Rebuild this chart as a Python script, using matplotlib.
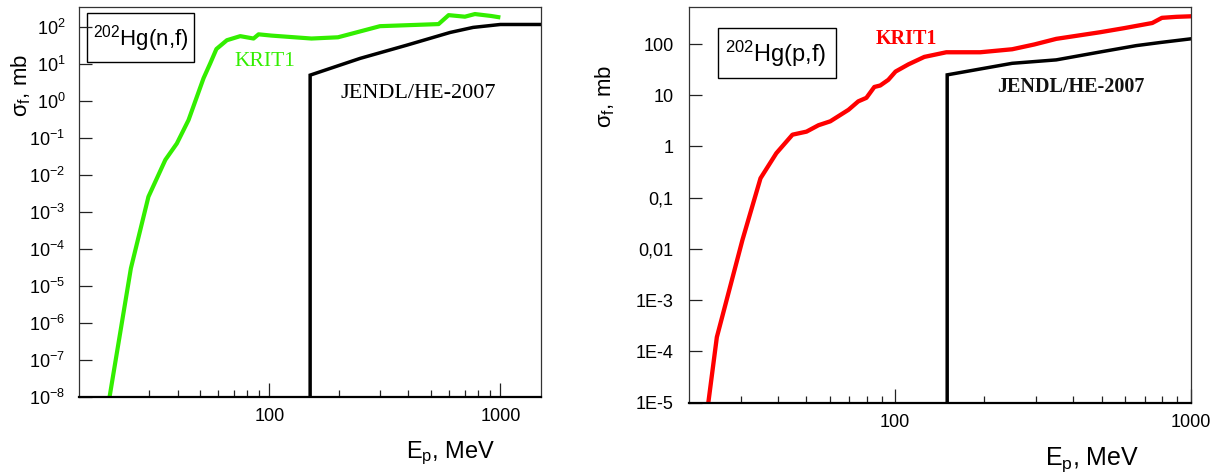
import matplotlib
matplotlib.use("Agg")
import matplotlib.pyplot as plt
from matplotlib.patches import Rectangle
from matplotlib.ticker import FixedLocator, FixedFormatter, NullFormatter

plt.rcParams['font.family'] = ['Liberation Sans', 'DejaVu Sans']
plt.rcParams['mathtext.fontset'] = 'custom'
plt.rcParams['mathtext.rm'] = 'Liberation Sans'
plt.rcParams['mathtext.it'] = 'Liberation Sans'
plt.rcParams['mathtext.bf'] = 'Liberation Sans:bold'

# 202Hg(n,f): KRIT1 and JENDL/HE-2007
E_n_krit = [20.3, 25.1, 29.9, 35.4, 39.7, 44.6, 51.8, 55.4, 58.9, 65.4, 74.7, 85.3, 89.7,
            102, 152, 198, 301, 540, 597, 702, 776, 912, 1000]
sig_n_krit = [1e-8, 3e-5, 2.6e-3, 2.6e-2, 7.2e-2, 0.31, 4.2, 10.7, 26, 45, 58, 50, 65,
              60, 50, 54, 108, 123, 215, 195, 230, 204, 186]
E_n_jendl = [150, 150, 247, 393, 606, 762, 1000, 1500]
sig_n_jendl = [1e-9, 5.1, 14.5, 33, 73, 100, 120, 120]

# 202Hg(p,f): KRIT1 and JENDL/HE-2007
E_p_krit = [23.3, 24.9, 30.4, 35.0, 39.6, 44.9, 50.1, 55, 60.3, 69.5, 75, 79.9, 85, 89,
            94.8, 100.3, 110.8, 125.5, 149, 194, 249, 296, 351, 495, 596, 742, 800, 895, 1000]
sig_p_krit = [1e-5, 1.9e-4, 0.015, 0.24, 0.74, 1.7, 1.95, 2.6, 3.1, 5.2, 7.6, 8.9, 14.5, 15.5,
              20, 29, 40, 56, 69, 69, 79, 98, 126, 170, 204, 257, 324, 339, 347]
E_p_jendl = [150, 150, 249, 351, 495, 655, 790, 1000]
sig_p_jendl = [1e-6, 25, 42, 49, 70, 93, 107, 126]

n_yticks = [1e-8, 1e-7, 1e-6, 1e-5, 1e-4, 1e-3, 1e-2, 1e-1, 1, 10, 100]
n_ylabels = ['$10^{-8}$', '$10^{-7}$', '$10^{-6}$', '$10^{-5}$', '$10^{-4}$', '$10^{-3}$',
             '$10^{-2}$', '$10^{-1}$', '$10^{0}$', '$10^{1}$', '$10^{2}$']
p_yticks = [1e-5, 1e-4, 1e-3, 1e-2, 1e-1, 1, 10, 100]
p_ylabels = ['1E-5', '1E-4', '1E-3', '0,01', '0,1', '1', '10', '100']
x_major = [100, 1000]
x_minor = [30, 40, 50, 60, 70, 80, 90, 200, 300, 400, 500, 600, 700, 800, 900]

fig = plt.figure(figsize=(12.29, 4.75), dpi=100)
ax1 = fig.add_axes([0.0645, 0.1648, 0.3757, 0.8198])
ax2 = fig.add_axes([0.5604, 0.1522, 0.4083, 0.8324])


def style(ax, yticks, ylabels, ypad):
    ax.set_xscale('log')
    ax.set_yscale('log')
    ax.xaxis.set_major_locator(FixedLocator(x_major))
    ax.xaxis.set_major_formatter(FixedFormatter(['100', '1000']))
    ax.xaxis.set_minor_locator(FixedLocator(x_minor))
    ax.xaxis.set_minor_formatter(NullFormatter())
    ax.yaxis.set_major_locator(FixedLocator(yticks))
    ax.yaxis.set_major_formatter(FixedFormatter(ylabels))
    ax.yaxis.set_minor_locator(FixedLocator([]))
    ax.tick_params(axis='both', which='both', direction='in', top=False, right=False,
                   width=0.9, color='#222222')
    ax.tick_params(axis='x', which='major', length=10, pad=8, labelsize=13)
    ax.tick_params(axis='x', which='minor', length=5.3)
    ax.tick_params(axis='y', which='major', length=9.5, pad=ypad, labelsize=13)
    for s in ['left', 'top', 'right']:
        ax.spines[s].set_linewidth(0.9)
        ax.spines[s].set_color('#333333')
    ax.spines['bottom'].set_linewidth(1.6)


# left panel
ax1.plot(E_n_krit, sig_n_krit, color='#33ee00', lw=3.0, solid_capstyle='butt')
ax1.plot(E_n_jendl, sig_n_jendl, color='black', lw=2.5, solid_joinstyle='miter')
ax1.set_xlim(15, 1500)
ax1.set_ylim(1e-8, 350)
style(ax1, n_yticks, n_ylabels, 10)
ax1.add_patch(Rectangle((0.016, 0.860), 0.233, 0.126, transform=ax1.transAxes,
                        fill=False, lw=1.0, ec='black'))
ax1.text(0.133, 0.921, '$^{202}$Hg(n,f)', transform=ax1.transAxes, fontsize=16,
         ha='center', va='center')
ax1.text(0.336, 0.849, 'KRIT1', transform=ax1.transAxes, fontsize=15.5,
         family='Liberation Serif', color='#33ee00', ha='left', va='baseline')
ax1.text(0.565, 0.766, 'JENDL/HE-2007', transform=ax1.transAxes, fontsize=16,
         family='Liberation Serif', color='black', ha='left', va='baseline')

# right panel
ax2.plot(E_p_krit, sig_p_krit, color='#ff0000', lw=3.1)
ax2.plot(E_p_jendl, sig_p_jendl, color='black', lw=2.5, solid_joinstyle='miter')
ax2.set_xlim(20, 1000)
ax2.set_ylim(1e-5, 520)
style(ax2, p_yticks, p_ylabels, 11)
ax2.add_patch(Rectangle((0.0578, 0.820), 0.235, 0.127, transform=ax2.transAxes,
                        fill=False, lw=1.0, ec='black'))
ax2.text(0.174, 0.882, '$^{202}$Hg(p,f)', transform=ax2.transAxes, fontsize=17,
         ha='center', va='center')
ax2.text(0.373, 0.907, 'KRIT1', transform=ax2.transAxes, fontsize=14.5,
         family='Liberation Serif', weight='bold', color='#ff0000', ha='left', va='baseline')
ax2.text(0.615, 0.785, 'JENDL/HE-2007', transform=ax2.transAxes, fontsize=14.5,
         family='Liberation Serif', weight='bold', color='#111111', ha='left', va='baseline')

# axis titles
fig.text(21 / 1229, 1 - 86 / 475, '$\\sigma_f$, mb', rotation=90, fontsize=16,
         ha='center', va='center')
fig.text(605 / 1229, 1 - 97 / 475, '$\\sigma_f$, mb', rotation=90, fontsize=16,
         ha='center', va='center')
fig.text(406 / 1229, 1 - 458 / 475, '$E_p$, MeV', fontsize=17, ha='left', va='baseline')
fig.text(1045 / 1229, 1 - 465 / 475, '$E_p$, MeV', fontsize=18, ha='left', va='baseline')

fig.savefig('out.png', dpi=100)
